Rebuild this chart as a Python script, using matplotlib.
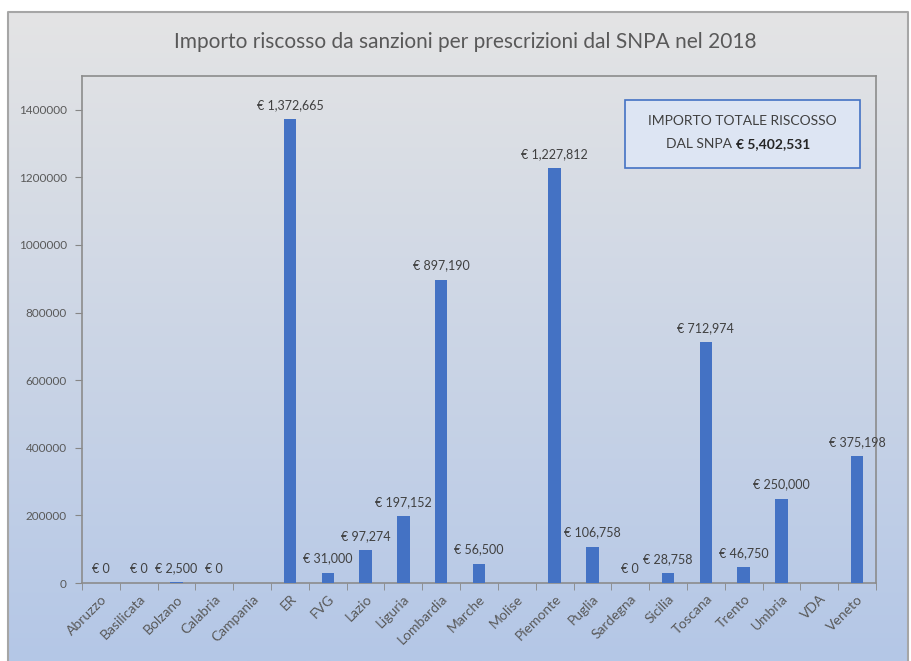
import numpy as np
import matplotlib.pyplot as plt
from matplotlib.patches import Rectangle

regioni = ["Abruzzo", "Basilicata", "Bolzano", "Calabria", "Campania", "ER", "FVG",
           "Lazio", "Liguria", "Lombardia", "Marche", "Molise", "Piemonte", "Puglia",
           "Sardegna", "Sicilia", "Toscana", "Trento", "Umbria", "VDA", "Veneto"]
importi = [0, 0, 2500, 0, None, 1372665, 31000, 97274, 197152, 897190, 56500, None,
           1227812, 106758, 0, 28758, 712974, 46750, 250000, None, 375198]
totale = 5402531
y_ticks = [0, 200000, 400000, 600000, 800000, 1000000, 1200000, 1400000]

plt.rcParams['font.family'] = ['Lato', 'DejaVu Sans']
W, H = 912, 661
fig = plt.figure(figsize=(W / 100, H / 100), dpi=100)

# sfondo a gradiente (grigio in alto, azzurro in basso)
bg = fig.add_axes([0, 0, 1, 1], zorder=-10)
bg.set_xlim(0, W)
bg.set_ylim(H, 0)
bg.axis("off")
top = np.array([0xe4, 0xe4, 0xe4]) / 255
bottom = np.array([0xb4, 0xc7, 0xe7]) / 255
t = np.linspace(0, 1, 256)[:, None]
grad = (top[None, :] * (1 - t) + bottom[None, :] * t)[:, None, :]
bg.imshow(grad, extent=[8, 908, H, 12], aspect="auto")
bg.plot([8, 8, 908, 908], [H, 12, 12, H], color="#a6a6a6", lw=1.5)

ax = fig.add_axes([82 / W, 1 - 583 / H, (876 - 82) / W, (583 - 76) / H])
ax.patch.set_alpha(0)
x = np.arange(len(regioni))
vals = [v if v is not None else 0 for v in importi]
ax.bar(x, vals, width=0.33, color="#4472c4", zorder=3)

for xi, v in zip(x, importi):
    if v is None:
        continue
    ax.annotate("€ {:,}".format(v), (xi, v), xytext=(0, 6), textcoords="offset points",
                ha="center", va="bottom", fontsize=9, color="#404040")

ax.set_xlim(-0.5, len(regioni) - 0.5)
ax.set_ylim(0, 1500000)
ax.set_yticks(y_ticks)
ax.set_yticklabels([str(v) for v in y_ticks], fontsize=8.5, color="#595959")
ax.set_xticks(x)
ax.set_xticklabels(regioni, rotation=45, ha="right", rotation_mode="anchor",
                   fontsize=10, color="#595959")
ax.set_xticks(np.arange(-0.5, len(regioni)), minor=True)
ax.tick_params(axis="x", which="major", length=0, pad=7)
ax.tick_params(axis="x", which="minor", length=5, color="#868686", direction="out")
ax.tick_params(axis="y", length=5, color="#868686", direction="out", pad=6)
for s in ax.spines.values():
    s.set_color("#8c8c8c")
    s.set_linewidth(1.2)

fig.text(465 / W, 1 - 42 / H, "Importo riscosso da sanzioni per prescrizioni dal SNPA nel 2018",
         ha="center", va="center", fontsize=15, color="#595959")

# riquadro con il totale
bg.add_patch(Rectangle((625, 100), 235, 68, facecolor="#dde5f3", edgecolor="#4472c4",
                       lw=1.2, zorder=5))
bg.text(742, 121, "IMPORTO TOTALE RISCOSSO", ha="center", va="center", fontsize=10,
        color="#404040", zorder=6)
bg.text(736, 144, "DAL SNPA ", ha="right", va="center", fontsize=10, color="#404040", zorder=6)
bg.text(736, 144, "€ {:,}".format(totale), ha="left", va="center", fontsize=10,
        fontweight="bold", color="#262626", zorder=6)

fig.savefig("out.png", dpi=100)
